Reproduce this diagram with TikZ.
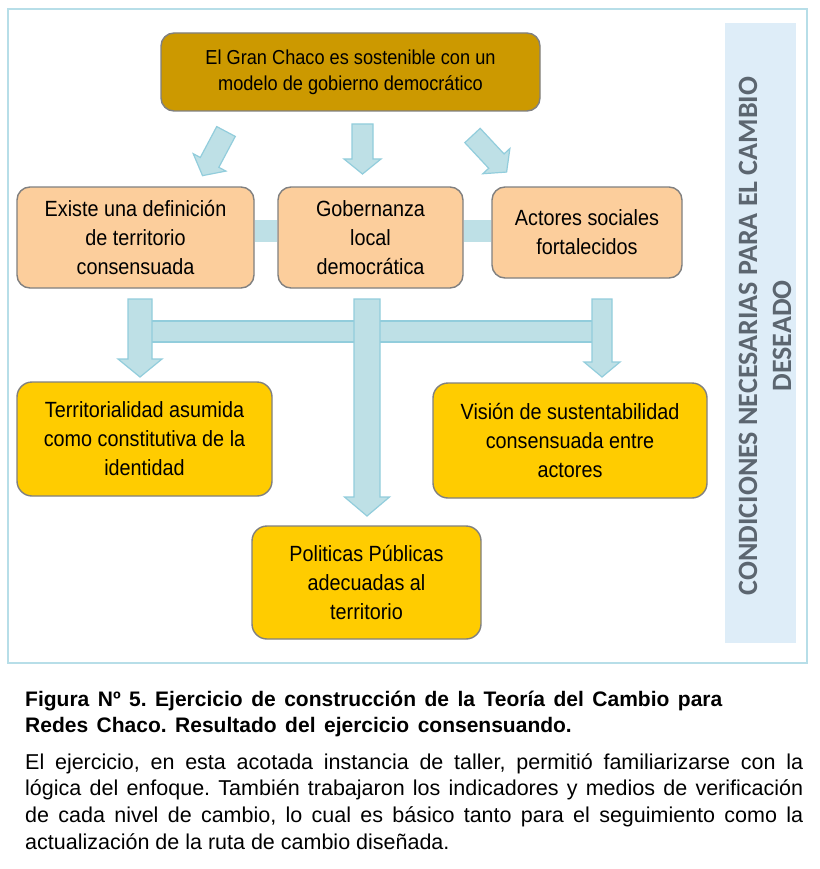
\documentclass[tikz,border=0pt]{standalone}
\usepackage{fontspec}
\setmainfont{Liberation Sans}
\newfontfamily\boxfont{Liberation Sans}[FakeStretch=0.9]
\newfontfamily\stripfont{Carlito}
\newcommand\capspacing{\frenchspacing\spaceskip=8.5pt plus 1pt\relax}
\definecolor{framecol}{HTML}{B7DEE8}
\definecolor{stripcol}{HTML}{DEEDF8}
\definecolor{striptext}{HTML}{5C6670}
\definecolor{goalcol}{HTML}{CC9900}
\definecolor{condcol}{HTML}{FCCE9C}
\definecolor{resultcol}{HTML}{FFCC00}
\definecolor{arrowfill}{HTML}{BEE0E6}
\definecolor{arrowline}{HTML}{92CDDC}
\begin{document}
\begin{tikzpicture}[x=1pt,y=-1pt,
    box/.style={draw=gray, line width=1.4pt, rounded corners=13pt, align=center, inner sep=0pt, font=\boxfont\fontsize{22}{29}\selectfont},
    barrow/.style={fill=arrowfill, draw=arrowline, line width=1.2pt, line join=miter}]
  \useasboundingbox (0,0) rectangle (819,869);
  \fill[white] (0,0) rectangle (819,869);
  \draw[framecol, line width=2pt] (8,9) rectangle (807,663);
  \fill[stripcol] (725,23) rectangle (796,643);
  \node[rotate=90, align=center, text=striptext, font=\stripfont\bfseries\fontsize{28}{34}\selectfont] (cond) at (765,336) {CONDICIONES NECESARIAS PARA EL CAMBIO\\DESEADO};
  % meta
  \node[box, fill=goalcol, minimum width=379pt, minimum height=78pt, font=\boxfont\fontsize{20.2}{26}\selectfont] (goal) at (350.5,72) {El Gran Chaco es sostenible con un\\modelo de gobierno democr\'atico};
  \foreach \x/\y/\a in {226/131.5/118, 362.5/124/90, 472.5/135.5/47}
    \draw[barrow, shift={(\x,\y)}, rotate=-\a] (0,-10.5) -- (35,-10.5) -- (35,-18.5) -- (50,0) -- (35,18.5) -- (35,10.5) -- (0,10.5) -- cycle;
  % condiciones
  \node[box, fill=condcol, minimum width=237pt, minimum height=101pt] (defn) at (135.5,237.5) {Existe una definición\\de territorio\\consensuada};
  \node[box, fill=condcol, minimum width=185pt, minimum height=101pt] (gob) at (370.5,237.5) {Gobernanza\\local\\democrática};
  \node[box, fill=condcol, minimum width=190pt, minimum height=91pt] (act) at (587,232.5) {Actores sociales\\fortalecidos};
  \fill[arrowfill] ([yshift=17.5pt]defn.east) rectangle ([yshift=-4.5pt]gob.west);
  \fill[arrowfill] ([yshift=17.5pt]gob.east) rectangle ([yshift=-9.5pt]act.west);
  \draw[barrow] (140,321) rectangle (602,342);
  \foreach \x/\e/\s/\w/\h in {140/377/12/22/18, 367/516/13/22.5/19, 602/377/10/18/15}
    \draw[barrow] (\x-\s,299) -- (\x-\s,\e-\h) -- (\x-\w,\e-\h) -- (\x,\e) -- (\x+\w,\e-\h) -- (\x+\s,\e-\h) -- (\x+\s,299) -- cycle;
  % resultados
  \node[box, fill=resultcol, rounded corners=15pt, minimum width=255pt, minimum height=114pt] (terr) at (144.5,439) {Territorialidad asumida\\como constitutiva de la\\identidad};
  \node[box, fill=resultcol, rounded corners=15pt, minimum width=274pt, minimum height=115pt] (vision) at (570,440.5) {Visión de sustentabilidad\\consensuada entre\\actores};
  \node[box, fill=resultcol, rounded corners=15pt, minimum width=229pt, minimum height=113pt] (polit) at (366.5,582.5) {Politicas Públicas\\adecuadas al\\territorio};
  % pie
  \node[anchor=base west, inner sep=0pt, text width=780pt, align=left, font=\bfseries\fontsize{21}{26}\selectfont] (cap) at (25,706.5) {\capspacing Figura Nº 5. Ejercicio de construcción de la Teoría del Cambio para\\Redes Chaco. Resultado del ejercicio consensuando.};
  \node[anchor=base west, inner sep=0pt, text width=778pt, align=justify, font=\fontsize{21.5}{26.7}\selectfont] (txt) at (25,769) {\frenchspacing El ejercicio, en esta acotada instancia de taller, permitió familiarizarse con la\linebreak lógica del enfoque. También trabajaron los indicadores y medios de verificación\linebreak de cada nivel de cambio, lo cual es básico tanto para el seguimiento como la\linebreak actualización de la ruta de cambio diseñada.};
\end{tikzpicture}
\end{document}
